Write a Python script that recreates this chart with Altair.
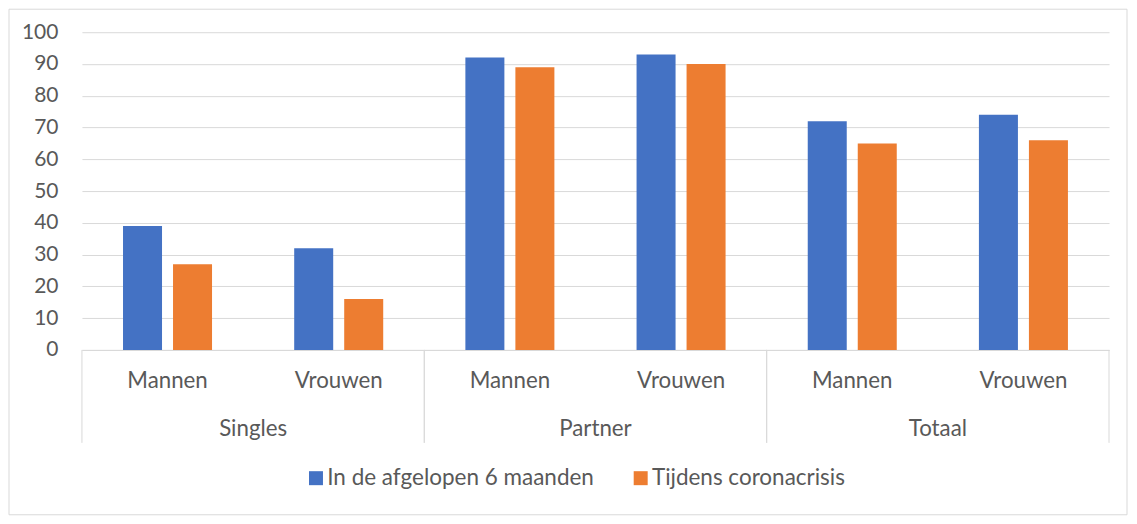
import altair as alt
import pandas as pd

groups = ["Singles", "Partner", "Totaal"]
subs = ["Mannen", "Vrouwen"]
series = ["In de afgelopen 6 maanden", "Tijdens coronacrisis"]
afgelopen = [39, 32, 92, 93, 72, 74]
corona = [27, 16, 89, 90, 65, 66]
colors = ["#4472C4", "#ED7D31"]

W, H = 1028, 318
FONT = "Lato"
TXT = "#595959"
GRID = "#d9d9d9"
FS_Y = 21
FS_X = 22.3
FS_L = 22.5

keys = [f"{g}|{s}" for g in groups for s in subs]
rows = []
for i, k in enumerate(keys):
    g, s = k.split("|")
    rows.append({"key": k, "group": g, "sub": s, "series": series[0], "value": afgelopen[i]})
    rows.append({"key": k, "group": g, "sub": s, "series": series[1], "value": corona[i]})
df = pd.DataFrame(rows)
sub_df = pd.DataFrame({"key": keys, "sub": [k.split("|")[1] for k in keys]})
grp_df = pd.DataFrame({"group": groups})
one_df = pd.DataFrame({"a": [0]})

key_scale = alt.Scale(domain=keys, paddingInner=0.48, paddingOuter=0.24)
grp_scale = alt.Scale(domain=groups, paddingInner=0, paddingOuter=0)

bars = alt.Chart(df).mark_bar().encode(
    x=alt.X("key:N", scale=key_scale,
            axis=alt.Axis(title=None, labels=False, ticks=False, domain=True,
                          domainColor=GRID, domainWidth=1, grid=False)),
    xOffset=alt.XOffset("series:N", scale=alt.Scale(domain=series, paddingInner=0.22, paddingOuter=0)),
    y=alt.Y("value:Q", scale=alt.Scale(domain=[0, 100]),
            axis=alt.Axis(values=list(range(0, 101, 10)), title=None, ticks=False, domain=False,
                          gridColor=GRID, labelPadding=24, labelFont=FONT, labelFontSize=FS_Y,
                          labelColor=TXT)),
    color=alt.Color("series:N", scale=alt.Scale(domain=series, range=colors),
                    legend=alt.Legend(orient="none", legendX=223, legendY=435, direction="horizontal",
                                      title=None, symbolType="square", symbolSize=196,
                                      symbolStrokeWidth=0, labelFont=FONT, labelFontSize=FS_L,
                                      labelColor=TXT, columnPadding=35, labelOffset=0,
                                      labelLimit=0)),
)

sublabels = alt.Chart(sub_df).mark_text(font=FONT, fontSize=FS_X, color=TXT, baseline="middle").encode(
    x=alt.X("key:N", scale=key_scale, axis=None),
    y=alt.value(H + 31),
    text="sub:N",
)

sep_start = alt.Chart(grp_df).mark_rule(color=GRID, strokeWidth=1).encode(
    x=alt.X("group:N", scale=grp_scale, bandPosition=0, axis=None),
    y=alt.value(H), y2=alt.value(H + 93),
)
sep_end = alt.Chart(grp_df).mark_rule(color=GRID, strokeWidth=1).encode(
    x=alt.X("group:N", scale=grp_scale, bandPosition=1, axis=None),
    y=alt.value(H), y2=alt.value(H + 93),
)
grplabels = alt.Chart(grp_df).mark_text(font=FONT, fontSize=FS_X, color=TXT, baseline="middle").encode(
    x=alt.X("group:N", scale=grp_scale, bandPosition=0.5, axis=None),
    y=alt.value(H + 79),
    text="group:N",
)

border = alt.Chart(one_df).mark_rect(fill=None, stroke=GRID, strokeWidth=1).encode(
    x=alt.value(-73), x2=alt.value(W + 18), y=alt.value(-23), y2=alt.value(H + 165),
)

chart = alt.layer(border, bars, sublabels, sep_start, sep_end, grplabels).resolve_scale(
    x="independent"
).properties(
    width=W, height=H,
    autosize=alt.AutoSizeParams(type="none"),
    padding={"left": 74, "top": 24, "right": 20, "bottom": 166},
).configure_view(stroke=None)

chart.save("out.html", embed_options={"renderer": "svg", "actions": False})
